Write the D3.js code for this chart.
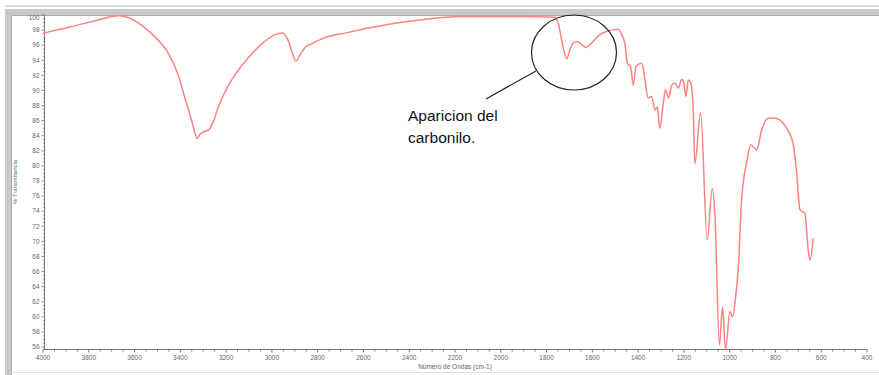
<!DOCTYPE html>
<html><head><meta charset="utf-8">
<script src="https://cdn.jsdelivr.net/npm/d3@7"></script>
<style>body{margin:0;background:#fff}svg{display:block}</style>
</head><body><svg id="c" width="879" height="375"></svg>
<script>
// wavenumbers (cm-1) and % transmittance
const wavenumbers = [4000,3882,3751,3672,3642,3576,3511,3454,3410,3380,3358,3340,3327,3314,3292,3275,3257,3235,3205,3161,3104,3043,2986,2956,2930,2908,2895,2877,2855,2825,2768,2681,2571,2440,2309,2178,2047,1916,1763,1749,1734,1712,1698,1683,1666,1647,1628,1603,1567,1530,1487,1472,1457,1447,1433,1421,1409,1384,1370,1356,1341,1326,1316,1305,1290,1280,1268,1253,1239,1224,1210,1200,1191,1181,1170,1159,1152,1127,1098,1076,1064,1045,1031,1018,999,987,974,962,948,926,908,882,860,831,802,751,722,707,693,671,657,649,635];
const transmittance = [97.6,98.4,99.4,99.9,99.8,98.8,97.1,95.0,92.1,89.0,86.8,84.8,83.6,84.2,84.6,84.8,85.8,87.7,89.8,92.1,94.3,96.2,97.4,97.6,96.7,94.7,93.9,94.7,95.7,96.2,97.0,97.6,98.3,99.0,99.5,99.8,99.8,99.8,99.7,98.9,96.7,94.2,95.4,96.3,96.5,96.1,95.7,96.3,97.4,97.9,98.1,97.4,96.1,93.6,93.2,90.7,93.2,93.6,91.4,89.0,89.2,87.4,87.8,85.0,88.3,90.1,89.0,90.7,91.0,90.3,91.5,91.0,89.2,91.4,91.0,87.4,80.3,87.0,70.2,77.0,73.3,56.3,61.3,55.6,60.7,60.0,62.7,66.6,75.5,80.4,82.8,82.1,84.8,86.3,86.3,85.0,82.8,79.0,74.2,73.7,68.9,67.5,70.4];
const xTickValues = [4000,3800,3600,3400,3200,3000,2800,2600,2400,2200,2000,1800,1600,1400,1200,1000,800,600,400];
const yTickValues = [56,58,60,62,64,66,68,70,72,74,76,78,80,82,84,86,88,90,92,94,96,98,100];
const xTitle = "Número de Ondas (cm-1)";
const yTitle = "% Transmitancia";
const noteLines = ["Aparicion del", "carbonilo."];

const svg = d3.select("#c");

// window frame
svg.append("rect").attr("x",5).attr("y",5).attr("width",874).attr("height",2).attr("fill","#d8d8d8");
svg.append("rect").attr("x",5).attr("y",9).attr("width",874).attr("height",6).attr("fill","#c9c9c9");
svg.append("rect").attr("x",5).attr("y",9).attr("width",6).attr("height",366).attr("fill","#c9c9c9");
svg.append("line").attr("x1",11).attr("x2",879).attr("y1",15.5).attr("y2",15.5).attr("stroke","#a8a8a8");
svg.append("line").attr("x1",11.5).attr("x2",11.5).attr("y1",15).attr("y2",375).attr("stroke","#a8a8a8");
svg.append("line").attr("x1",11).attr("x2",879).attr("y1",372.5).attr("y2",372.5).attr("stroke","#e2e2e2");

const x = d3.scaleLinear().domain([4000,400]).range([43,867]);
const y = d3.scaleLinear().domain([56,100]).range([347,15]);

const axisCol = "#777", labCol = "#666";

// x axis
const gx = svg.append("g").attr("transform","translate(0,349.5)");
gx.append("line").attr("x1",43).attr("x2",867).attr("stroke",axisCol);
gx.selectAll("line.mi").data(d3.range(4000,399,-50)).join("line")
  .attr("x1",d=>x(d)).attr("x2",d=>x(d)).attr("y1",0).attr("y2",d=>d%200===0?3:2).attr("stroke",axisCol);
gx.selectAll("text").data(xTickValues).join("text")
  .attr("x",d=>x(d)).attr("y",10).attr("text-anchor","middle")
  .attr("font-family","Liberation Sans, Arial, sans-serif").attr("font-size",6.5).attr("fill",labCol).text(d=>d);
svg.append("text").attr("x",455).attr("y",369).attr("text-anchor","middle")
  .attr("font-family","Liberation Sans, Arial, sans-serif").attr("font-size",6.5).attr("fill",labCol).text(xTitle);

// y axis
const gy = svg.append("g").attr("transform","translate(44.5,0)");
gy.append("line").attr("y1",15).attr("y2",349.5).attr("stroke",axisCol);
gy.selectAll("line.mi").data(d3.range(56,100.01,0.5)).join("line")
  .attr("y1",d=>y(d)).attr("y2",d=>y(d)).attr("x1",d=>d%2===0?-3:-1.5).attr("x2",0).attr("stroke",axisCol).attr("stroke-width",0.8);
gy.selectAll("text").data(yTickValues).join("text")
  .attr("x",-5).attr("y",d=>Math.max(y(d),18)).attr("dy","0.35em").attr("text-anchor","end")
  .attr("font-family","Liberation Sans, Arial, sans-serif").attr("font-size",6.5).attr("fill",labCol).text(d=>d);
svg.append("text").attr("transform","translate(17,182) rotate(-90)").attr("text-anchor","middle")
  .attr("font-family","Liberation Sans, Arial, sans-serif").attr("font-size",6).attr("fill",labCol).text(yTitle);

// spectrum
const pts = wavenumbers.map((w,i)=>[w,transmittance[i]]);
const line = d3.line().x(d=>x(d[0])).y(d=>y(d[1])).curve(d3.curveMonotoneX);
svg.append("path").datum(pts).attr("d",line).attr("fill","none")
  .attr("stroke","#ff8282").attr("stroke-width",1.5).attr("stroke-linejoin","round");

// annotation
svg.append("ellipse").attr("cx",574).attr("cy",52.5).attr("rx",42.5).attr("ry",37.5)
  .attr("fill","none").attr("stroke","#222").attr("stroke-width",1.2);
svg.append("line").attr("x1",486).attr("y1",99).attr("x2",536).attr("y2",71)
  .attr("stroke","#222").attr("stroke-width",1.2);
svg.append("g").selectAll("text").data(noteLines).join("text")
  .attr("x",408).attr("y",(d,i)=>121+i*22)
  .attr("font-family","Liberation Sans, Arial, sans-serif").attr("font-size",15.5).attr("fill","#111").text(d=>d);
</script></body></html>
